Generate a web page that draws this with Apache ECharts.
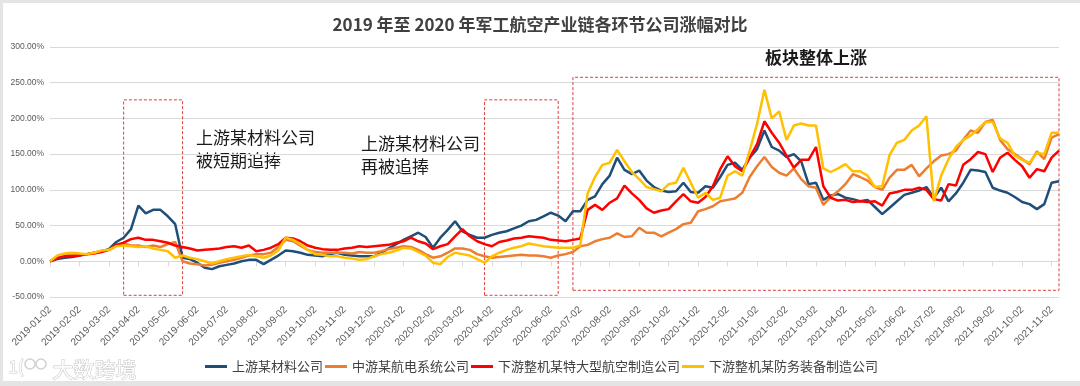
<!DOCTYPE html>
<html><head><meta charset="utf-8">
<script src="https://cdn.jsdelivr.net/npm/echarts@6/dist/echarts.min.js"></script>
<style>html,body{margin:0;padding:0;background:#fff;}#c{width:1080px;height:386px;}</style>
</head><body><div id="c"></div>
<script>
// Month tick labels (x axis)
const monthLabels = ['2019-01-02','2019-02-02','2019-03-02','2019-04-02','2019-05-02','2019-06-02','2019-07-02','2019-08-02','2019-09-02','2019-10-02','2019-11-02','2019-12-02',
 '2020-01-02','2020-02-02','2020-03-02','2020-04-02','2020-05-02','2020-06-02','2020-07-02','2020-08-02','2020-09-02','2020-10-02','2020-11-02','2020-12-02',
 '2021-01-02','2021-02-02','2021-03-02','2021-04-02','2021-05-02','2021-06-02','2021-07-02','2021-08-02','2021-09-02','2021-10-02','2021-11-02'];
const sampleDays = ['02','09','16','23'];
const yTickLabels = ['-50.00%','0.00%','50.00%','100.00%','150.00%','200.00%','250.00%','300.00%'];

const seriesNames = ['上游某材料公司','中游某航电系统公司','下游整机某特大型航空制造公司','下游整机某防务装备制造公司'];
const seriesColors = ['#1F4E79','#ED7D31','#FF0000','#FFC000'];

// values in % (4 samples per month)
const upstream = [
 0,3,5,6, 8,10,12,14, 17,27,33,45, 78,67,72,72, 63,52,5,3, -2,-9,-11,-7, -5,-3,0,2, 2,-4,2,8, 15,14,12,9, 8,7,10,12, 9,8,7,7, 7,12,18,24,
 30,35,40,34, 19,33,44,56, 42,37,33,33, 37,40,42,46, 50,56,58,63, 68,64,56,70, 70,86,91,108, 120,145,128,122, 127,113,104,99, 97,98,110,97, 96,105,103,118, 135,138,128,145,
 157,183,160,155, 146,150,140,108, 110,86,92,94, 89,87,84,86, 76,66,75,84, 93,96,99,104, 89,103,84,95, 110,128,127,125, 103,99,96,90, 83,80,73,80, 110,112];
const midstream = [
 0,5,8,9, 9,10,12,14, 16,22,25,22, 22,20,22,20, 24,27,0,-3, -4,-6,-5,-2, 0,2,5,8, 10,10,12,20, 30,28,22,16, 13,12,12,12, 12,11,13,12, 12,14,17,19,
 21,20,16,10, 5,7,12,18, 18,16,10,7, 5,6,7,8, 9,8,8,7, 5,8,10,13, 21,23,28,31, 33,39,34,35, 47,40,40,35, 40,45,52,54, 70,73,77,84, 86,88,96,118,
 133,146,132,124, 120,130,115,105, 103,79,90,98, 108,122,118,113, 104,100,117,128, 128,135,119,130, 140,148,150,155, 170,183,180,195, 198,170,157,150, 143,136,154,143, 173,178];
const downstreamLarge = [
 0,5,7,7, 8,10,11,13, 16,23,26,31, 33,30,30,28, 26,22,20,18, 15,16,17,18, 20,21,19,22, 14,16,19,24, 33,32,28,22, 19,17,16,16, 18,19,21,20, 21,22,23,26,
 28,33,28,25, 17,21,24,35, 45,35,28,24, 21,27,29,32, 33,35,34,33, 30,29,28,30, 32,72,79,72, 82,88,106,95, 86,74,68,71, 73,84,94,84, 82,90,105,129, 147,133,126,145,
 164,196,180,166, 148,131,142,142, 160,105,89,85, 86,83,84,83, 84,78,95,97, 100,100,103,100, 87,85,108,106, 135,143,153,150, 125,145,152,142, 133,117,129,126, 145,155];
const downstreamDefense = [
 0,8,11,12, 11,10,12,15, 16,21,22,21, 20,21,18,16, 14,5,8,5, 3,0,-3,0, 3,5,7,9, 7,5,8,15, 33,30,24,16, 10,9,7,7, 5,4,2,3, 7,10,12,15,
 19,18,13,8, -2,-4,6,12, 10,8,3,-2, 7,12,16,19, 21,25,23,21, 20,19,19,19, 22,95,118,135, 138,156,140,125, 115,104,101,98, 108,110,131,110, 89,96,86,89, 120,126,120,155,
 192,240,200,210, 170,190,193,190, 190,130,125,130, 136,126,126,120, 104,105,149,166, 170,183,190,203, 84,120,143,160, 170,176,185,195, 195,172,166,148, 142,138,152,150, 180,180];

const categories = [];
monthLabels.forEach(function (lab) {
  const base = lab.slice(0, 8);
  sampleDays.forEach(function (d) { categories.push(base + d); });
});
categories.length = upstream.length;

const chart = echarts.init(document.getElementById('c'));
const boxStyle = {color: 'rgba(0,0,0,0)', borderColor: '#e03c3c', borderWidth: 1, borderType: [3, 2]};
const allData = [upstream, midstream, downstreamLarge, downstreamDefense];
const series = seriesNames.map(function (n, i) {
  const s = {
    name: n, type: 'line', data: allData[i], symbol: 'none', smooth: false,
    lineStyle: {width: 2.5, color: seriesColors[i]}, itemStyle: {color: seriesColors[i]},
    xAxisIndex: 0, z: 2 + i
  };
  if (i === 0) {
    s.markArea = {silent: true, itemStyle: boxStyle, data: [
      [{xAxis: 10, yAxis: -47.6}, {xAxis: 18, yAxis: 226}],
      [{xAxis: 59, yAxis: -47.6}, {xAxis: 69, yAxis: 226}],
      [{xAxis: 71, yAxis: -40.6}, {xAxis: 137, yAxis: 257.6}]
    ]};
  }
  return s;
});

const CJK = '"Noto Sans CJK SC", sans-serif';
chart.setOption({
  animation: false,
  backgroundColor: '#ffffff',
  title: {text: '2019 年至 2020 年军工航空产业链各环节公司涨幅对比', left: 'center', top: 11,
    textStyle: {fontSize: 17, fontWeight: 'bold', color: '#404040', fontFamily: CJK}},
  legend: {data: seriesNames, left: 205, top: 360, padding: 0, icon: 'rect', itemWidth: 22, itemHeight: 3, itemGap: 2,
    textStyle: {fontSize: 13, color: '#404040', fontFamily: CJK}},
  grid: {left: 50, right: 21, top: 47, bottom: 89},
  xAxis: [
    {type: 'category', data: categories, boundaryGap: false, position: 'bottom',
     axisLine: {onZero: true, lineStyle: {color: '#d9d9d9', width: 1}},
     axisTick: {show: true, interval: 3, length: 5, lineStyle: {color: '#d9d9d9'}},
     axisLabel: {show: false}, splitLine: {show: false}},
    {type: 'category', data: categories, boundaryGap: false, position: 'bottom',
     axisLine: {show: false, onZero: false}, axisTick: {show: false},
     axisLabel: {show: true, interval: 3, rotate: 45, margin: 11, fontSize: 10, color: '#595959', fontFamily: '"Liberation Sans", Arial'},
     splitLine: {show: false}}
  ],
  yAxis: {type: 'value', min: -50, max: 300, interval: 50,
    axisLine: {show: false}, axisTick: {show: false},
    splitLine: {lineStyle: {color: '#d9d9d9', width: 1}},
    axisLabel: {fontSize: 8.5, color: '#595959', margin: 6, fontFamily: '"Liberation Sans", Arial',
      formatter: function (v) { return yTickLabels[(v + 50) / 50]; }}},
  graphic: [
    {type: 'rect', shape: {x: 0, y: 0, width: 1080, height: 3}, style: {fill: '#e4e4e4'}, silent: true},
    {type: 'rect', shape: {x: 0, y: 0, width: 3, height: 386}, style: {fill: '#e4e4e4'}, silent: true},
    {type: 'rect', shape: {x: 0, y: 381, width: 1080, height: 5}, style: {fill: '#e4e4e4'}, silent: true},
    {type: 'text', left: 196, top: 126, style: {text: '上游某材料公司\n被短期追捧', fontSize: 17, lineHeight: 23, fill: '#1a1a1a', fontFamily: CJK}},
    {type: 'text', left: 361, top: 132, style: {text: '上游某材料公司\n再被追捧', fontSize: 17, lineHeight: 23, fill: '#1a1a1a', fontFamily: CJK}},
    {type: 'text', left: 765, top: 49, style: {text: '板块整体上涨', fontSize: 17, fontWeight: 'bold', fill: '#1a1a1a', fontFamily: CJK}},
    {type: 'circle', shape: {cx: 30, cy: 364, r: 5}, style: {fill: 'none', stroke: '#d0d0d0', lineWidth: 1.5}, silent: true},
    {type: 'circle', shape: {cx: 41, cy: 364, r: 5}, style: {fill: 'none', stroke: '#d0d0d0', lineWidth: 1.5}, silent: true},
    {type: 'text', left: 8, top: 358, style: {text: '1(', fontSize: 17, fill: '#ffffff', stroke: '#c8c8c8', lineWidth: 1, fontFamily: CJK}},
    {type: 'text', left: 52, top: 358, style: {text: '大数跨境', fontSize: 21, fill: '#ffffff', stroke: '#c4c4c4', lineWidth: 1, fontFamily: CJK}}
  ],
  series: series
});
</script></body></html>
